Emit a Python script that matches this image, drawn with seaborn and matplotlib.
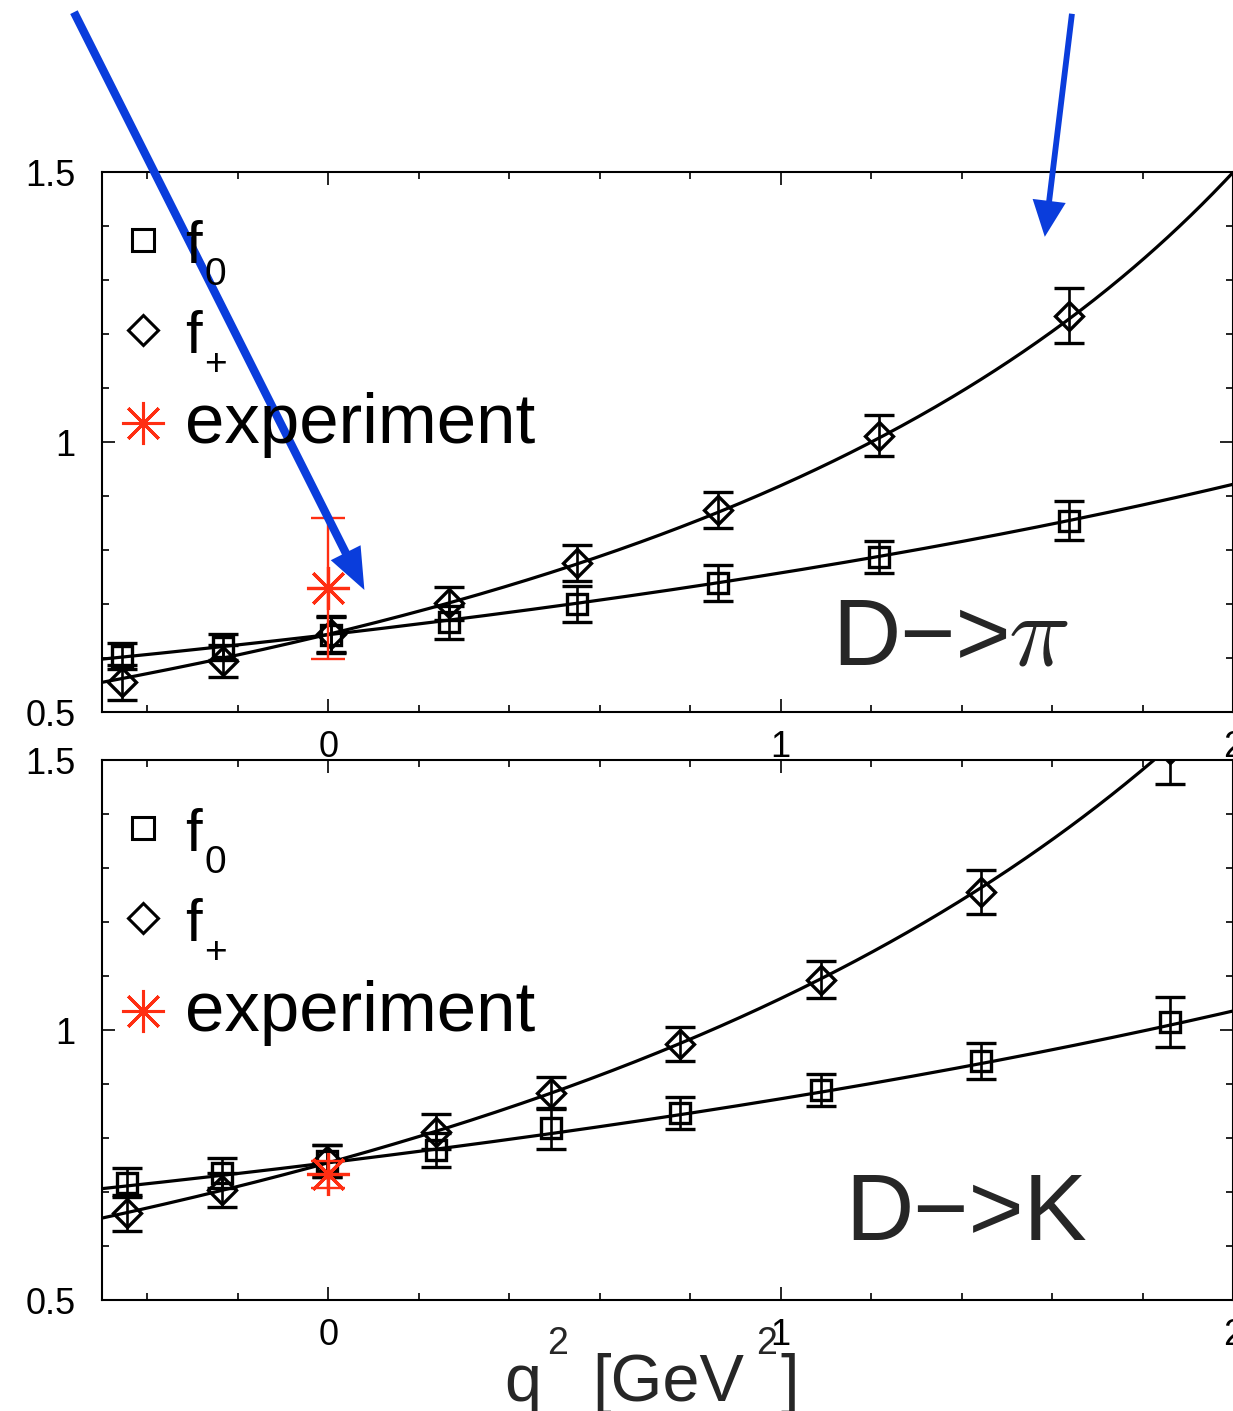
import numpy as np
import pandas as pd
import matplotlib
matplotlib.use("Agg")
import matplotlib.pyplot as plt
from matplotlib.ticker import MultipleLocator
import seaborn as sns

# ---------------- data ----------------
# D -> pi form factors (lattice points)
pi_q2 = [-0.456, -0.232, 0.007, 0.268, 0.551, 0.861, 1.217, 1.637]
pi_f0 = [0.603, 0.621, 0.643, 0.666, 0.700, 0.739, 0.787, 0.854]
pi_f0_err = [0.024, 0.024, 0.033, 0.030, 0.033, 0.033, 0.030, 0.036]
pi_fp = [0.555, 0.594, 0.644, 0.701, 0.776, 0.874, 1.012, 1.234]
pi_fp_err = [0.032, 0.030, 0.033, 0.030, 0.033, 0.034, 0.038, 0.051]
pi_exp_q2 = [0.0]
pi_exp = [0.729]
pi_exp_err = [0.130]

# D -> K form factors (lattice points)
k_q2 = [-0.444, -0.235, -0.002, 0.239, 0.493, 0.777, 1.090, 1.442, 1.861]
k_f0 = [0.717, 0.735, 0.757, 0.778, 0.818, 0.846, 0.889, 0.943, 1.015]
k_f0_err = [0.027, 0.028, 0.030, 0.032, 0.038, 0.030, 0.030, 0.033, 0.047]
k_fp = [0.661, 0.704, 0.757, 0.812, 0.883, 0.974, 1.093, 1.256, 1.520]
k_fp_err = [0.033, 0.032, 0.030, 0.032, 0.030, 0.031, 0.034, 0.041, 0.065]
k_exp_q2 = [0.0]
k_exp = [0.733]
k_exp_err = [0.025]

# fit curves: f(q2) = 1 / (a + b*q2 + c*q2^2)
pi_f0_fit = [1.555, -0.235, 0.0]
pi_fp_fit = [1.553, -0.487, 0.022]
k_f0_fit = [1.326, -0.180, 0.0]
k_fp_fit = [1.326, -0.405, 0.024]

x_ticks = [0, 1, 2]
x_tick_labels = ["0", "1", "2"]
y_ticks = [0.5, 1.0, 1.5]
y_tick_labels = ["0.5", "1", "1.5"]

# ---------------- style ----------------
sns.set_theme(style="ticks")
SANS = ["Liberation Sans", "DejaVu Sans"]
plt.rcParams["font.family"] = SANS
plt.rcParams["mathtext.fontset"] = "cm"

W, H = 1233, 1411
fig = plt.figure(figsize=(W / 100, H / 100), dpi=100)
fig.patch.set_facecolor("white")


def fx(px):
    return px / W


def fy(py):
    return 1 - py / H


RED = "#ff2e12"
BLUE = "#0a3ddc"
grid = np.linspace(-0.5, 2.0, 400)


def fit_curve(coef):
    a, b, c = coef
    return 1.0 / (a + b * grid + c * grid ** 2)


def style_axes(ax):
    ax.set_xlim(-0.5, 2.0)
    ax.set_ylim(0.5, 1.5)
    ax.set_facecolor("white")
    ax.xaxis.set_minor_locator(MultipleLocator(0.2))
    ax.yaxis.set_minor_locator(MultipleLocator(0.1))
    ax.set_xticks(x_ticks)
    ax.set_xticklabels(x_tick_labels)
    ax.set_yticks(y_ticks)
    ax.set_yticklabels(y_tick_labels)
    ax.tick_params(which="both", direction="in", top=True, right=True,
                   colors="black", width=1.2, labelsize=26)
    ax.tick_params(which="major", length=9.5)
    ax.tick_params(which="minor", length=5)
    ax.tick_params(axis="x", pad=13)
    ax.tick_params(axis="y", pad=19)
    for s in ax.spines.values():
        s.set_linewidth(1.5)
        s.set_color("black")
    ax.set_xlabel("")
    ax.set_ylabel("")


def draw_panel(ax, q2, f0, f0e, fp, fpe, eq2, ev, ee, fit0, fitp):
    sns.lineplot(x=grid, y=fit_curve(fit0), ax=ax, color="black", lw=2.3,
                 zorder=4, legend=False)
    sns.lineplot(x=grid, y=fit_curve(fitp), ax=ax, color="black", lw=2.3,
                 zorder=4, legend=False)
    ax.errorbar(q2, f0, yerr=f0e, fmt="s", ms=14, mfc="none", mec="black",
                mew=2.4, ecolor="black", elinewidth=1.9, capsize=11,
                capthick=2.4, zorder=3)
    ax.errorbar(q2, fp, yerr=fpe, fmt="D", ms=14.5, mfc="none", mec="black",
                mew=2.4, ecolor="black", elinewidth=1.9, capsize=11,
                capthick=2.4, zorder=3)
    ax.errorbar(eq2, ev, yerr=ee, fmt="none", ecolor=RED, elinewidth=1.7,
                capsize=12, capthick=1.7, zorder=5)
    ax.plot(eq2, ev, linestyle="none", marker=(8, 2, 0), ms=31, mew=2.3,
            color=RED, zorder=6)


ax1 = fig.add_axes([fx(102), fy(712), fx(1233) - fx(102), fy(172) - fy(712)])
ax2 = fig.add_axes([fx(102), fy(1300), fx(1233) - fx(102), fy(760) - fy(1300)])

draw_panel(ax1, pi_q2, pi_f0, pi_f0_err, pi_fp, pi_fp_err,
           pi_exp_q2, pi_exp, pi_exp_err, pi_f0_fit, pi_fp_fit)
draw_panel(ax2, k_q2, k_f0, k_f0_err, k_fp, k_fp_err,
           k_exp_q2, k_exp, k_exp_err, k_f0_fit, k_fp_fit)
style_axes(ax1)
style_axes(ax2)


# ---------------- legends ----------------
def legend(top):
    rows = [("s", 16, "black", 0), ("D", 15, "black", 90), ((8, 2, 0), 31, RED, 183)]
    for marker, ms, col, dy in rows:
        fig.add_artist(plt.Line2D([fx(143)], [fy(top + dy)], marker=marker,
                                  ms=ms, mfc="none", mec=col, mew=2.2,
                                  linestyle="none", transform=fig.transFigure))
    fig.text(fx(185), fy(top + 23), "f", fontsize=43, ha="left",
             va="baseline", color="black")
    fig.text(fx(204), fy(top + 45), "0", fontsize=28, ha="left",
             va="baseline", color="black")
    fig.text(fx(185), fy(top + 113), "f", fontsize=43, ha="left",
             va="baseline", color="black")
    fig.text(fx(204), fy(top + 135), "+", fontsize=28, ha="left",
             va="baseline", color="black")
    fig.text(fx(185), fy(top + 203), "experiment", fontsize=51, ha="left",
             va="baseline", color="black")


legend(240)
legend(828)

# ---------------- decay labels ----------------
fig.text(fx(832), fy(665), "D\u2212>", fontsize=68, ha="left", va="baseline")
fig.text(fx(1008), fy(665), r"$\pi$", fontsize=74, ha="left", va="baseline")
fig.text(fx(845), fy(1240), "D\u2212>K", fontsize=68, ha="left", va="baseline")

# ---------------- axis title ----------------
fig.text(fx(504), fy(1401), "q", fontsize=48, ha="left", va="baseline")
fig.text(fx(547), fy(1354), "2", fontsize=27, ha="left", va="baseline")
fig.text(fx(592), fy(1401), "[GeV", fontsize=48, ha="left", va="baseline")
fig.text(fx(756), fy(1354), "2", fontsize=27, ha="left", va="baseline")
fig.text(fx(780), fy(1401), "]", fontsize=48, ha="left", va="baseline")

# ---------------- arrows ----------------
ax1.annotate("", xy=(0.08, 0.726), xytext=(-0.562, 1.796),
             xycoords="data", textcoords="data", annotation_clip=False,
             arrowprops=dict(arrowstyle="simple,head_length=30,head_width=24,tail_width=6",
                             mutation_scale=1, color=BLUE, lw=0,
                             shrinkA=0, shrinkB=0), zorder=10)
ax1.annotate("", xy=(1.584, 1.38), xytext=(1.644, 1.793),
             xycoords="data", textcoords="data", annotation_clip=False,
             arrowprops=dict(arrowstyle="simple,head_length=26,head_width=24,tail_width=4.2",
                             mutation_scale=1, color=BLUE, lw=0,
                             shrinkA=0, shrinkB=0), zorder=10)

fig.savefig("out.png", dpi=100, facecolor="white")
